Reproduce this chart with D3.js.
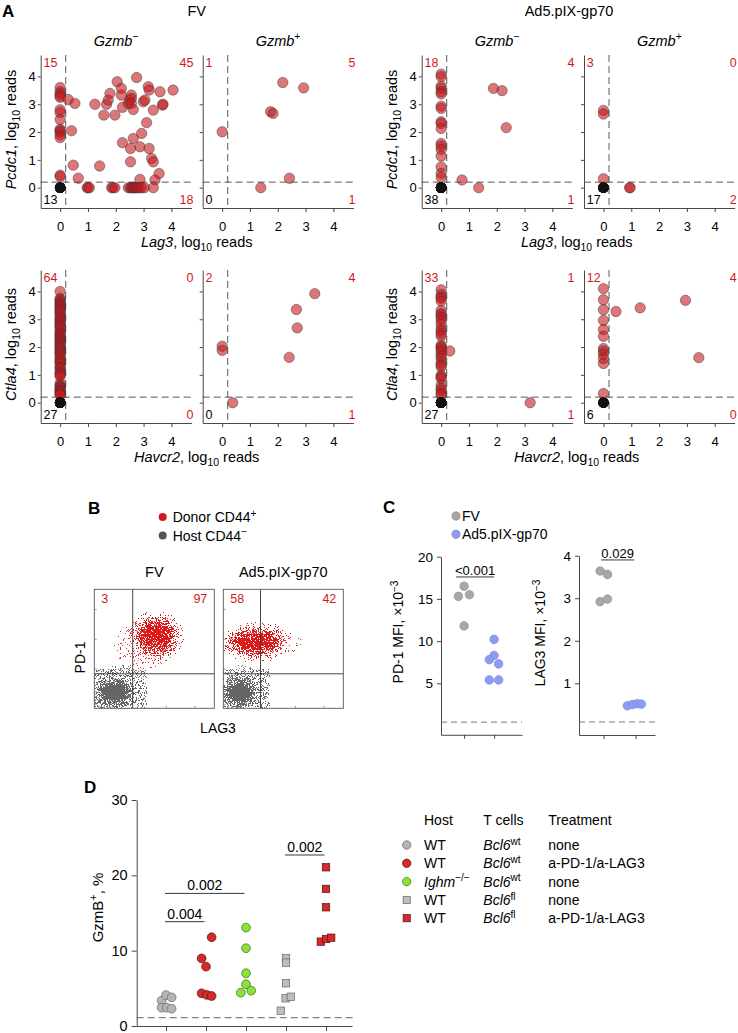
<!DOCTYPE html>
<html><head><meta charset="utf-8">
<script src="https://cdn.jsdelivr.net/npm/d3@7"></script>
<style>body{margin:0;background:#fff} svg{display:block} text{font-family:"Liberation Sans",Arial,Helvetica,sans-serif}</style>
</head><body><svg id="fig" width="738" height="1033"></svg>
<script>
// ================= DATA =================
// Panel A : [x, y] in log10 reads (cells with both genes = 0 are the black dots, counted in *_counts[2])
const fvNeg_Lag3 = [
 [0,3.6],[0,3.45],[0,3.38],[0,3.3],[0,3.25],[0,2.8],[0,2.7],[0,2.45],[0,2.1],[0,2.05],[0,2.0],[0,1.9],[0,1.8],[0,0.45],[0,0.4],
 [0.29,3.17],[0.53,3.03],[0.41,2.05],[0.47,0.81],[0.65,0.34],[1.25,3.0],[1.42,0.78],[1.57,2.61],[1.67,3.0],[1.73,3.15],[1.79,3.39],[1.97,2.61],[2.05,3.81],[2.2,3.57],[2.2,3.33],[2.24,2.89],[2.24,1.62],[2.45,3.03],[2.5,3.15],[2.56,3.33],[2.56,3.21],[2.63,2.81],[2.56,3.03],[2.53,1.41],[2.53,0.93],[2.63,1.77],[2.75,3.96],[2.87,1.47],[2.93,1.95],[2.87,0.3],[2.99,3.09],[3.05,3.15],[3.11,2.34],[3.17,3.63],[3.2,3.51],[3.2,1.41],[3.29,1.05],[3.35,2.79],[3.35,0.93],[3.41,0.28],[3.56,0.51],[3.59,3.45],[3.68,2.97],[3.7,3.0],[4.06,3.51],
 [0.97,0],[1.0,0],[1.05,0],[1.85,0],[1.9,0],[1.97,0],[2.45,0],[2.52,0],[2.57,0],[2.62,0],[2.66,0],[2.7,0],[2.74,0],[2.8,0],[2.86,0],[2.93,0],[3.03,0],[3.35,0]
];
const fvPos_Lag3 = [[0,2.01],[1.74,2.73],[1.83,2.67],[2.18,3.78],[2.93,3.59],[2.42,0.34],[1.39,0]];
const adNeg_Lag3 = [
 [0,4.08],[0,3.99],[0,3.65],[0,3.57],[0,3.45],[0,3.37],[0,2.93],[0,2.85],[0,2.37],[0,2.31],[0,2.13],[0,1.59],[0,1.5],[0,1.38],[0,1.14],[0,0.75],[0,0.51],[0,0.37],
 [0.75,0.28],[1.88,3.57],[2.19,3.49],[2.34,2.16],[1.35,0]
];
const adPos_Lag3 = [[0,2.78],[0,2.65],[0,0.32],[0.95,0],[0.95,0]];
const fvNeg_Havcr2 = [4.0,3.75,3.7,3.65,3.6,3.55,3.5,3.45,3.4,3.35,3.3,3.25,3.2,3.12,3.05,3.0,2.95,2.9,2.85,2.8,2.75,2.7,2.62,2.55,2.5,2.45,2.4,2.35,2.3,2.25,2.2,2.15,2.1,2.05,2.0,1.95,1.9,1.85,1.8,1.75,1.7,1.62,1.55,1.5,1.45,1.4,1.3,1.25,1.2,1.1,1.05,1.0,0.95,0.7,0.62,0.58,0.55,0.5,0.45,0.42,0.38,0.35,0.3,0.28].map(v=>[0,v]);
const fvPos_Havcr2 = [[0,2.03],[0,1.88],[2.41,1.63],[2.7,2.69],[2.67,3.35],[3.33,3.92],[0.38,0]];
const adNeg_Havcr2 = [4.06,3.89,3.8,3.75,3.65,3.32,3.2,3.15,3.06,2.96,2.82,2.66,2.57,2.48,2.39,2.07,2.0,1.98,1.89,1.79,1.67,1.59,1.43,1.35,1.29,0.99,0.93,0.87,0.63,0.51,0.45,0.33,0.27].map(v=>[0,v]).concat([[0.31,1.86],[3.2,0]]);
const adPos_Havcr2 = [[0,4.1],[0,3.7],[0,3.34],[0,2.96],[0,2.63],[0,2.39],[0,1.95],[0,1.86],[0,1.74],[0,1.59],[0,1.41],[0,0.33],[0.45,3.28],[1.32,3.41],[2.95,3.68],[3.43,1.62]];
// quadrant counts: [top-left, top-right, bottom-left, bottom-right]
const fvNeg_Lag3_counts = [15,45,13,18];
const fvPos_Lag3_counts = [1,5,0,1];
const adNeg_Lag3_counts = [18,4,38,1];
const adPos_Lag3_counts = [3,0,17,2];
const fvNeg_Havcr2_counts = [64,0,27,0];
const fvPos_Havcr2_counts = [2,4,0,1];
const adNeg_Havcr2_counts = [33,1,27,1];
const adPos_Havcr2_counts = [12,4,6,0];
const aTicks = [0,1,2,3,4];
const aThreshold = 0.2;
const aConditions = ["FV","Ad5.pIX-gp70"];

// Panel B : flow cytometry (arbitrary 0-100 units on LAG3 / PD-1 axes)
const bConditions = ["FV","Ad5.pIX-gp70"];
const bGates = [[32,29],[31,29]];
const bQuadrantPct = [["3","97"],["58","42"]];
// [plot, population, cx, cy, rx, ry, density]
const bClusters = [
 [0,"host",22,24,18,20,0.5],[0,"host",17,13,12,9,1],
 [0,"donor",42,53,32,26,0.5],[0,"donor",52,61,16,14,1],
 [1,"host",17,24,15,20,0.5],[1,"host",14,13,11,9,1],
 [1,"donor",36,55,38,17,0.5],[1,"donor",27,56,22,10,1]
];

// Panel C : MFI x10^-3
const cGroups = ["FV","Ad5.pIX-gp70"];
const pd1FV = [16.5,15.3,15.5,11.8];
const pd1FVJitter = [0,-0.19,0.18,0];
const pd1Ad5 = [10.2,8.3,7.8,7.3,5.4,5.4];
const pd1Ad5Jitter = [0,0,-0.16,0.15,-0.16,0.15];
const lag3FV = [3.64,3.56,2.92,2.98];
const lag3FVJitter = [-0.11,0.12,-0.11,0.12];
const lag3Ad5 = [0.47,0.5,0.52,0.51];
const lag3Ad5Jitter = [-0.26,-0.1,0.05,0.18];
const pd1Pval = "<0.001", lag3Pval = "0.029";

// Panel D : GzmB+ %
const gzmbWtNone = [3.36,4.1,3.8,2.43,2.43,2.3];
const gzmbWtTreated = [8.97,7.88,11.78,4.34,4.12,3.98];
const gzmbIghmNone = [13.06,10.32,7.0,5.54,4.42,4.69];
const gzmbFlNone = [8.99,8.41,5.67,3.68,3.89,2.03];
const gzmbFlTreated = [21.07,18.2,15.76,11.2,11.55,11.72];
const dJitter = [[-0.11,0,0.14,-0.11,0.02,0.14],[-0.11,0,0.14,-0.11,0.02,0.14],[0,0,0,0,-0.13,0.13],[0,0,0,-0.01,0.12,-0.13],[0,0,0,-0.13,0,0.13]];
const dHost = ["WT","WT","Ighm","WT","WT"];
const dHostSup = ["","","\u2212/\u2212","",""];
const dTcellSup = ["wt","wt","wt","fl","fl"];
const dTreatment = ["none","a-PD-1/a-LAG3","none","none","a-PD-1/a-LAG3"];
const dBrackets = [[0,1,"0.004",13.85],[0,2,"0.002",17.6],[3,4,"0.002",22.7]];
const dYTicks = [0,10,20,30];

// ================= DRAWING =================
const svg = d3.select("#fig");
svg.append("rect").attr("width",738).attr("height",1033).attr("fill","#fff");
const defs = svg.append("defs");
const RED_TXT = "#d0191c";

function rich(parent, x, y, parts, o={}) {
  const size = o.size||13;
  const t = parent.append("text").attr("font-size",size).attr("text-anchor",o.anchor||"start").attr("fill",o.fill||"#000");
  if (o.rotate) t.attr("transform",`translate(${x},${y}) rotate(-90)`); else t.attr("x",x).attr("y",y);
  if (o.weight) t.attr("font-weight",o.weight);
  let shift = 0;
  parts.forEach(p=>{
    if (typeof p === "string") p = {t:p};
    const sp = t.append("tspan").text(p.t);
    let target = 0;
    if (p.sup) target = -size*0.38;
    if (p.sub) target = size*0.28;
    sp.attr("dy", target-shift); shift = target;
    if (p.sup||p.sub) sp.attr("font-size", size*0.72);
    if (p.italic) sp.attr("font-style","italic");
  });
  return t;
}
function styleAxis(g, size){
  g.attr("font-size",size).attr("color","#333");
  g.selectAll("text").attr("fill","#000");
  g.selectAll("path,line").attr("stroke-width",0.9);
}

// ---------- Panel A ----------
const aColLeft = [40.7, 202.7, 421.7, 584.0];
const aRowTop = [55, 270];
const aW = 150.7, aH = 153;
const aXDom = [-0.7,4.72], aYDom = [-0.73,4.77];
function drawA(col,row,pts,counts){
  const left = aColLeft[col], top = aRowTop[row];
  const x = d3.scaleLinear().domain(aXDom).range([left,left+aW]);
  const y = d3.scaleLinear().domain(aYDom).range([top+aH,top]);
  const g = svg.append("g");
  const gx = g.append("g").attr("transform",`translate(0,${top+aH})`)
    .call(d3.axisBottom(x).tickValues(aTicks).tickSize(4).tickSizeOuter(0).tickPadding(9.5).tickFormat(d3.format("d")));
  const gy = g.append("g").attr("transform",`translate(${left},0)`)
    .call(d3.axisLeft(y).tickValues(aTicks).tickSize(3).tickSizeOuter(0).tickPadding(2).tickFormat(col%2===0?d3.format("d"):()=>""));
  styleAxis(gx,13); styleAxis(gy,13);
  g.append("line").attr("x1",x(aThreshold)).attr("x2",x(aThreshold)).attr("y1",top).attr("y2",top+aH)
    .attr("stroke","#444").attr("stroke-width",0.9).attr("stroke-dasharray","7,4");
  g.append("line").attr("x1",left).attr("x2",left+aW).attr("y1",y(aThreshold)).attr("y2",y(aThreshold))
    .attr("stroke","#444").attr("stroke-width",0.9).attr("stroke-dasharray","7,4");
  g.selectAll("circle.p").data(pts).join("circle").attr("class","p")
    .attr("cx",d=>x(d[0])).attr("cy",d=>y(d[1])).attr("r",5.2)
    .attr("fill","#c41a1e").attr("fill-opacity",0.6).attr("stroke","#333").attr("stroke-opacity",0.75).attr("stroke-width",0.6);
  g.selectAll("circle.n").data(d3.range(counts[2])).join("circle").attr("class","n")
    .attr("cx",x(0)).attr("cy",y(0)).attr("r",5.2).attr("fill","#111");
  const fs = 12.5;
  rich(g,left+2.8,top+11.5,[String(counts[0])],{size:fs,fill:RED_TXT});
  rich(g,left+aW+2,top+11.5,[String(counts[1])],{size:fs,fill:RED_TXT,anchor:"end"});
  rich(g,left+2.8,top+aH-4,[String(counts[2])],{size:fs,fill:"#000"});
  rich(g,left+aW+2,top+aH-4,[String(counts[3])],{size:fs,fill:RED_TXT,anchor:"end"});
}
drawA(0,0,fvNeg_Lag3,fvNeg_Lag3_counts);
drawA(1,0,fvPos_Lag3,fvPos_Lag3_counts);
drawA(2,0,adNeg_Lag3,adNeg_Lag3_counts);
drawA(3,0,adPos_Lag3,adPos_Lag3_counts);
drawA(0,1,fvNeg_Havcr2,fvNeg_Havcr2_counts);
drawA(1,1,fvPos_Havcr2,fvPos_Havcr2_counts);
drawA(2,1,adNeg_Havcr2,adNeg_Havcr2_counts);
drawA(3,1,adPos_Havcr2,adPos_Havcr2_counts);
rich(svg,2,16.5,["A"],{size:17,weight:"bold"});
rich(svg,196.7,15.5,[aConditions[0]],{size:14.5,anchor:"middle"});
rich(svg,569,15.5,[aConditions[1]],{size:14.5,anchor:"middle"});
[0,1,2,3].forEach(c=>{
  const cx = aColLeft[c]+aW/2;
  rich(svg,cx,45.5,[{t:"Gzmb",italic:true},{t:c%2===0?"\u2212":"+",sup:true}],{size:14.5,anchor:"middle"});
});
[[16,0,"Pcdc1"],[397,0,"Pcdc1"],[16,1,"Ctla4"],[397,1,"Ctla4"]].forEach(([x,r,gene])=>{
  rich(svg,x,aRowTop[r]+aH/2-2,[{t:gene,italic:true},", log",{t:"10",sub:true}," reads"],{size:14.5,anchor:"middle",rotate:true});
});
[[196.7,247,"Lag3"],[576.7,247,"Lag3"],[196.7,462,"Havcr2"],[576.7,462,"Havcr2"]].forEach(([x,y,gene])=>{
  rich(svg,x,y,[{t:gene,italic:true},", log",{t:"10",sub:true}," reads"],{size:14.5,anchor:"middle"});
});

// ---------- Panel B ----------
function speckle(id,color,k4,blur,seed,freq){
  const f = defs.append("filter").attr("id",id).attr("x",-0.6).attr("y",-0.6).attr("width",2.2).attr("height",2.2)
    .attr("color-interpolation-filters","sRGB");
  f.append("feGaussianBlur").attr("in","SourceAlpha").attr("stdDeviation",blur).attr("result","b");
  f.append("feTurbulence").attr("type","fractalNoise").attr("baseFrequency",freq).attr("numOctaves",1).attr("seed",seed).attr("result","t");
  f.append("feColorMatrix").attr("in","t").attr("type","matrix").attr("values","0 0 0 0 0 0 0 0 0 0 0 0 0 0 0 3.2 0 0 0 -1.1").attr("result","n");
  f.append("feComposite").attr("in","b").attr("in2","n").attr("operator","arithmetic")
    .attr("k1",0).attr("k2",1).attr("k3",1).attr("k4",k4).attr("result","s");
  f.append("feComponentTransfer").attr("in","s").attr("result","m").append("feFuncA").attr("type","discrete").attr("tableValues","0 0 1 1");
  f.append("feFlood").attr("flood-color",color).attr("result","c");
  f.append("feComposite").attr("in","c").attr("in2","m").attr("operator","in");
}
speckle("spRedCore","#dd1a1a",-0.55,6,7,1.6);
speckle("spRedHalo","#e03030",-0.9,8,17,1.6);
speckle("spGrayCore","#666666",-0.2,5,11,1.6);
speckle("spGrayHalo","#777777",-0.9,7,23,1.6);
const bLeft = [94.3,223.3], bTop = 589.3, bW = 120, bH = 119;
bConditions.forEach((cond,i)=>{
  const x = d3.scaleLinear().domain([0,100]).range([bLeft[i],bLeft[i]+bW]);
  const y = d3.scaleLinear().domain([0,100]).range([bTop+bH,bTop]);
  const cp = defs.append("clipPath").attr("id","bclip"+i);
  cp.append("rect").attr("x",bLeft[i]).attr("y",bTop).attr("width",bW).attr("height",bH);
  const g = svg.append("g").attr("clip-path",`url(#bclip${i})`);
  bClusters.filter(c=>c[0]===i).forEach(c=>{
    const f = (c[1]==="host"?"spGray":"spRed")+(c[6]<1?"Halo":"Core");
    g.append("ellipse").attr("cx",x(c[2])).attr("cy",y(c[3]))
      .attr("rx",x(c[2]+c[4])-x(c[2])).attr("ry",y(c[3])-y(c[3]+c[5]))
      .attr("fill","#000").attr("fill-opacity",c[6])
      .attr("filter",`url(#${f})`);
  });
  // gates
  svg.append("line").attr("x1",x(bGates[i][0])).attr("x2",x(bGates[i][0])).attr("y1",bTop).attr("y2",bTop+bH).attr("stroke","#333").attr("stroke-width",0.9);
  svg.append("line").attr("x1",bLeft[i]).attr("x2",bLeft[i]+bW).attr("y1",y(bGates[i][1])).attr("y2",y(bGates[i][1])).attr("stroke","#333").attr("stroke-width",0.9);
  svg.append("rect").attr("x",bLeft[i]).attr("y",bTop).attr("width",bW).attr("height",bH).attr("fill","none").attr("stroke","#555").attr("stroke-width",0.9);
  // small log ticks
  const ty = [3,7,10,12,14,33,58,83], tx = [4,8,11,13,15,36,60,84];
  ty.forEach(v=>svg.append("line").attr("x1",bLeft[i]).attr("x2",bLeft[i]+2.5).attr("y1",y(v)).attr("y2",y(v)).attr("stroke","#777").attr("stroke-width",0.7));
  tx.forEach(v=>svg.append("line").attr("x1",x(v)).attr("x2",x(v)).attr("y1",bTop+bH).attr("y2",bTop+bH-2.5).attr("stroke","#777").attr("stroke-width",0.7));
  rich(svg,bLeft[i]+bW/2,577,[cond],{size:14.5,anchor:"middle"});
  rich(svg,bLeft[i]+7,603.3,[bQuadrantPct[i][0]],{size:12.5,fill:RED_TXT});
  rich(svg,bLeft[i]+bW-7,603.3,[bQuadrantPct[i][1]],{size:12.5,fill:RED_TXT,anchor:"end"});
});
rich(svg,88,514,["B"],{size:17,weight:"bold"});
svg.append("circle").attr("cx",162.7).attr("cy",517).attr("r",4).attr("fill","#d0191c");
svg.append("circle").attr("cx",162.7).attr("cy",535.5).attr("r",4).attr("fill","#555");
rich(svg,172.7,522.3,["Donor CD44",{t:"+",sup:true}],{size:14});
rich(svg,172.7,540.7,["Host CD44",{t:"\u2212",sup:true}],{size:14});
rich(svg,85,657.5,["PD-1"],{size:14,anchor:"middle",rotate:true});
rich(svg,218,733,["LAG3"],{size:14,anchor:"middle"});

// ---------- Panel C ----------
rich(svg,383,513,["C"],{size:17,weight:"bold"});
svg.append("circle").attr("cx",456).attr("cy",516).attr("r",4.2).attr("fill","#a5a5a5").attr("stroke","#888").attr("stroke-width",0.6);
svg.append("circle").attr("cx",456).attr("cy",534.3).attr("r",4.2).attr("fill","#8e9cf0").attr("stroke","#7282dc").attr("stroke-width",0.6);
rich(svg,462,520.7,[cGroups[0]],{size:14});
rich(svg,462,539,[cGroups[1]],{size:14});
function drawC(axisX, xRight, groupUnit, yDom, yTop, yZeroPx, yTicks, dashV, sets, pval, bracketY, bOff){
  const x = d3.scaleLinear().domain([-0.77, (xRight-axisX)/groupUnit-0.77]).range([axisX,xRight]);
  const unit = (yZeroPx-yTop)/yDom[1];
  const y = d3.scaleLinear().domain([yDom[0], yDom[1]]).range([yZeroPx - yDom[0]*unit, yTop]);
  const yBottom = y(yDom[0]);
  const gy = svg.append("g").attr("transform",`translate(${axisX},0)`)
    .call(d3.axisLeft(y).tickValues(yTicks).tickSize(4).tickSizeOuter(0).tickPadding(4).tickFormat(d3.format("d")));
  const gx = svg.append("g").attr("transform",`translate(0,${yBottom})`)
    .call(d3.axisBottom(x).tickValues([0,1]).tickSize(4).tickSizeOuter(0).tickFormat(()=>""));
  styleAxis(gy,13.5); styleAxis(gx,13);
  svg.append("line").attr("x1",axisX).attr("x2",xRight).attr("y1",y(dashV)).attr("y2",y(dashV))
    .attr("stroke","#666").attr("stroke-width",0.9).attr("stroke-dasharray","6,4");
  sets.forEach(([vals,jit,gi,fill,stroke])=>{
    svg.selectAll(null).data(vals).join("circle")
      .attr("cx",(d,k)=>x(gi+jit[k])).attr("cy",d=>y(d)).attr("r",4.3)
      .attr("fill",fill).attr("stroke",stroke).attr("stroke-width",0.6);
  });
  const bx1 = x(0)+bOff[0], bx2 = x(1)+bOff[1];
  svg.append("line").attr("x1",bx1).attr("x2",bx2).attr("y1",y(bracketY)).attr("y2",y(bracketY)).attr("stroke","#222").attr("stroke-width",0.9);
  rich(svg,(bx1+bx2)/2,y(bracketY)-2.2,[pval],{size:13,anchor:"middle"});
}
drawC(441,522,30,[-1.1,20],556.7,725.5,[5,10,15,20],0.4,
  [[pd1FV,pd1FVJitter,0,"#a8a8a8","#8a8a8a"],[pd1Ad5,pd1Ad5Jitter,1,"#8e9cf0","#7282dc"]],pd1Pval,17.6,[-8,0]);
drawC(579,655,32,[-0.216,4],555.7,725.8,[1,2,3,4],0.09,
  [[lag3FV,lag3FVJitter,0,"#a8a8a8","#8a8a8a"],[lag3Ad5,lag3Ad5Jitter,1,"#8e9cf0","#7282dc"]],lag3Pval,3.9,[-2.5,-1.5]);
rich(svg,403,632,["PD-1 MFI, \u00d710",{t:"\u22123",sup:true}],{size:14,anchor:"middle",rotate:true});
rich(svg,545,633,["LAG3 MFI, \u00d710",{t:"\u22123",sup:true}],{size:14,anchor:"middle",rotate:true});

// ---------- Panel D ----------
rich(svg,84,793,["D"],{size:17,weight:"bold"});
(function(){
  const x = d3.scaleLinear().domain([-0.733,4.65]).range([136.7,352]);
  const y = d3.scaleLinear().domain([0,30]).range([1026,800]);
  const gy = svg.append("g").attr("transform","translate(136.7,0)")
    .call(d3.axisLeft(y).tickValues(dYTicks).tickSize(5).tickSizeOuter(0).tickPadding(4).tickFormat(d3.format("d")));
  const gx = svg.append("g").attr("transform","translate(0,1026)")
    .call(d3.axisBottom(x).tickValues([0,1,2,3,4]).tickSize(5).tickSizeOuter(0).tickFormat(()=>""));
  styleAxis(gy,14.5); styleAxis(gx,13);
  svg.append("line").attr("x1",136.7).attr("x2",356).attr("y1",y(1.1)).attr("y2",y(1.1))
    .attr("stroke","#555").attr("stroke-width",0.9).attr("stroke-dasharray","7,4");
  const groups = [gzmbWtNone,gzmbWtTreated,gzmbIghmNone,gzmbFlNone,gzmbFlTreated];
  const shapes = ["circle","circle","circle","square","square"];
  const fills = ["#b5b5b5","#d42a2a","#88e23a","#bdbdbd","#d42a2a"];
  const strokes = ["#666","#5a1010","#3d6a18","#666","#5a1010"];
  groups.forEach((vals,gi)=>{
    vals.forEach((v,k)=>{
      const cx = x(gi+dJitter[gi][k]), cy = y(v);
      if (shapes[gi]==="circle")
        svg.append("circle").attr("cx",cx).attr("cy",cy).attr("r",4.4).attr("fill",fills[gi]).attr("stroke",strokes[gi]).attr("stroke-width",0.7);
      else
        svg.append("rect").attr("x",cx-3.7).attr("y",cy-3.7).attr("width",7.4).attr("height",7.4).attr("fill",fills[gi]).attr("stroke",strokes[gi]).attr("stroke-width",0.7);
    });
  });
  dBrackets.forEach(([a,b,lab,v])=>{
    const x1 = x(a)-1, x2 = x(b)-1.5;
    svg.append("line").attr("x1",x1).attr("x2",x2).attr("y1",y(v)).attr("y2",y(v)).attr("stroke","#222").attr("stroke-width",0.9);
    rich(svg,(x1+x2)/2,y(v)-3,[lab],{size:14,anchor:"middle"});
  });
  rich(svg,103,907.5,["GzmB",{t:"+",sup:true},", %"],{size:15,anchor:"middle",rotate:true});
  // legend
  rich(svg,424,825,["Host"],{size:14});
  rich(svg,483.3,825,["T cells"],{size:14});
  rich(svg,548.3,825,["Treatment"],{size:14});
  dHost.forEach((h,i)=>{
    const by = 850 + i*18.3;
    if (shapes[i]==="circle")
      svg.append("circle").attr("cx",406.7).attr("cy",by-5).attr("r",4.2).attr("fill",fills[i]).attr("stroke",strokes[i]).attr("stroke-width",0.7);
    else
      svg.append("rect").attr("x",406.7-3.6).attr("y",by-5-3.6).attr("width",7.2).attr("height",7.2).attr("fill",fills[i]).attr("stroke",strokes[i]).attr("stroke-width",0.7);
    if (dHostSup[i]) rich(svg,424,by,[{t:h,italic:true},{t:dHostSup[i],sup:true}],{size:14});
    else rich(svg,424,by,[h],{size:14});
    rich(svg,483.3,by,[{t:"Bcl6",italic:true},{t:dTcellSup[i],sup:true}],{size:14});
    rich(svg,548.3,by,[dTreatment[i]],{size:14});
  });
})();
</script></body></html>
